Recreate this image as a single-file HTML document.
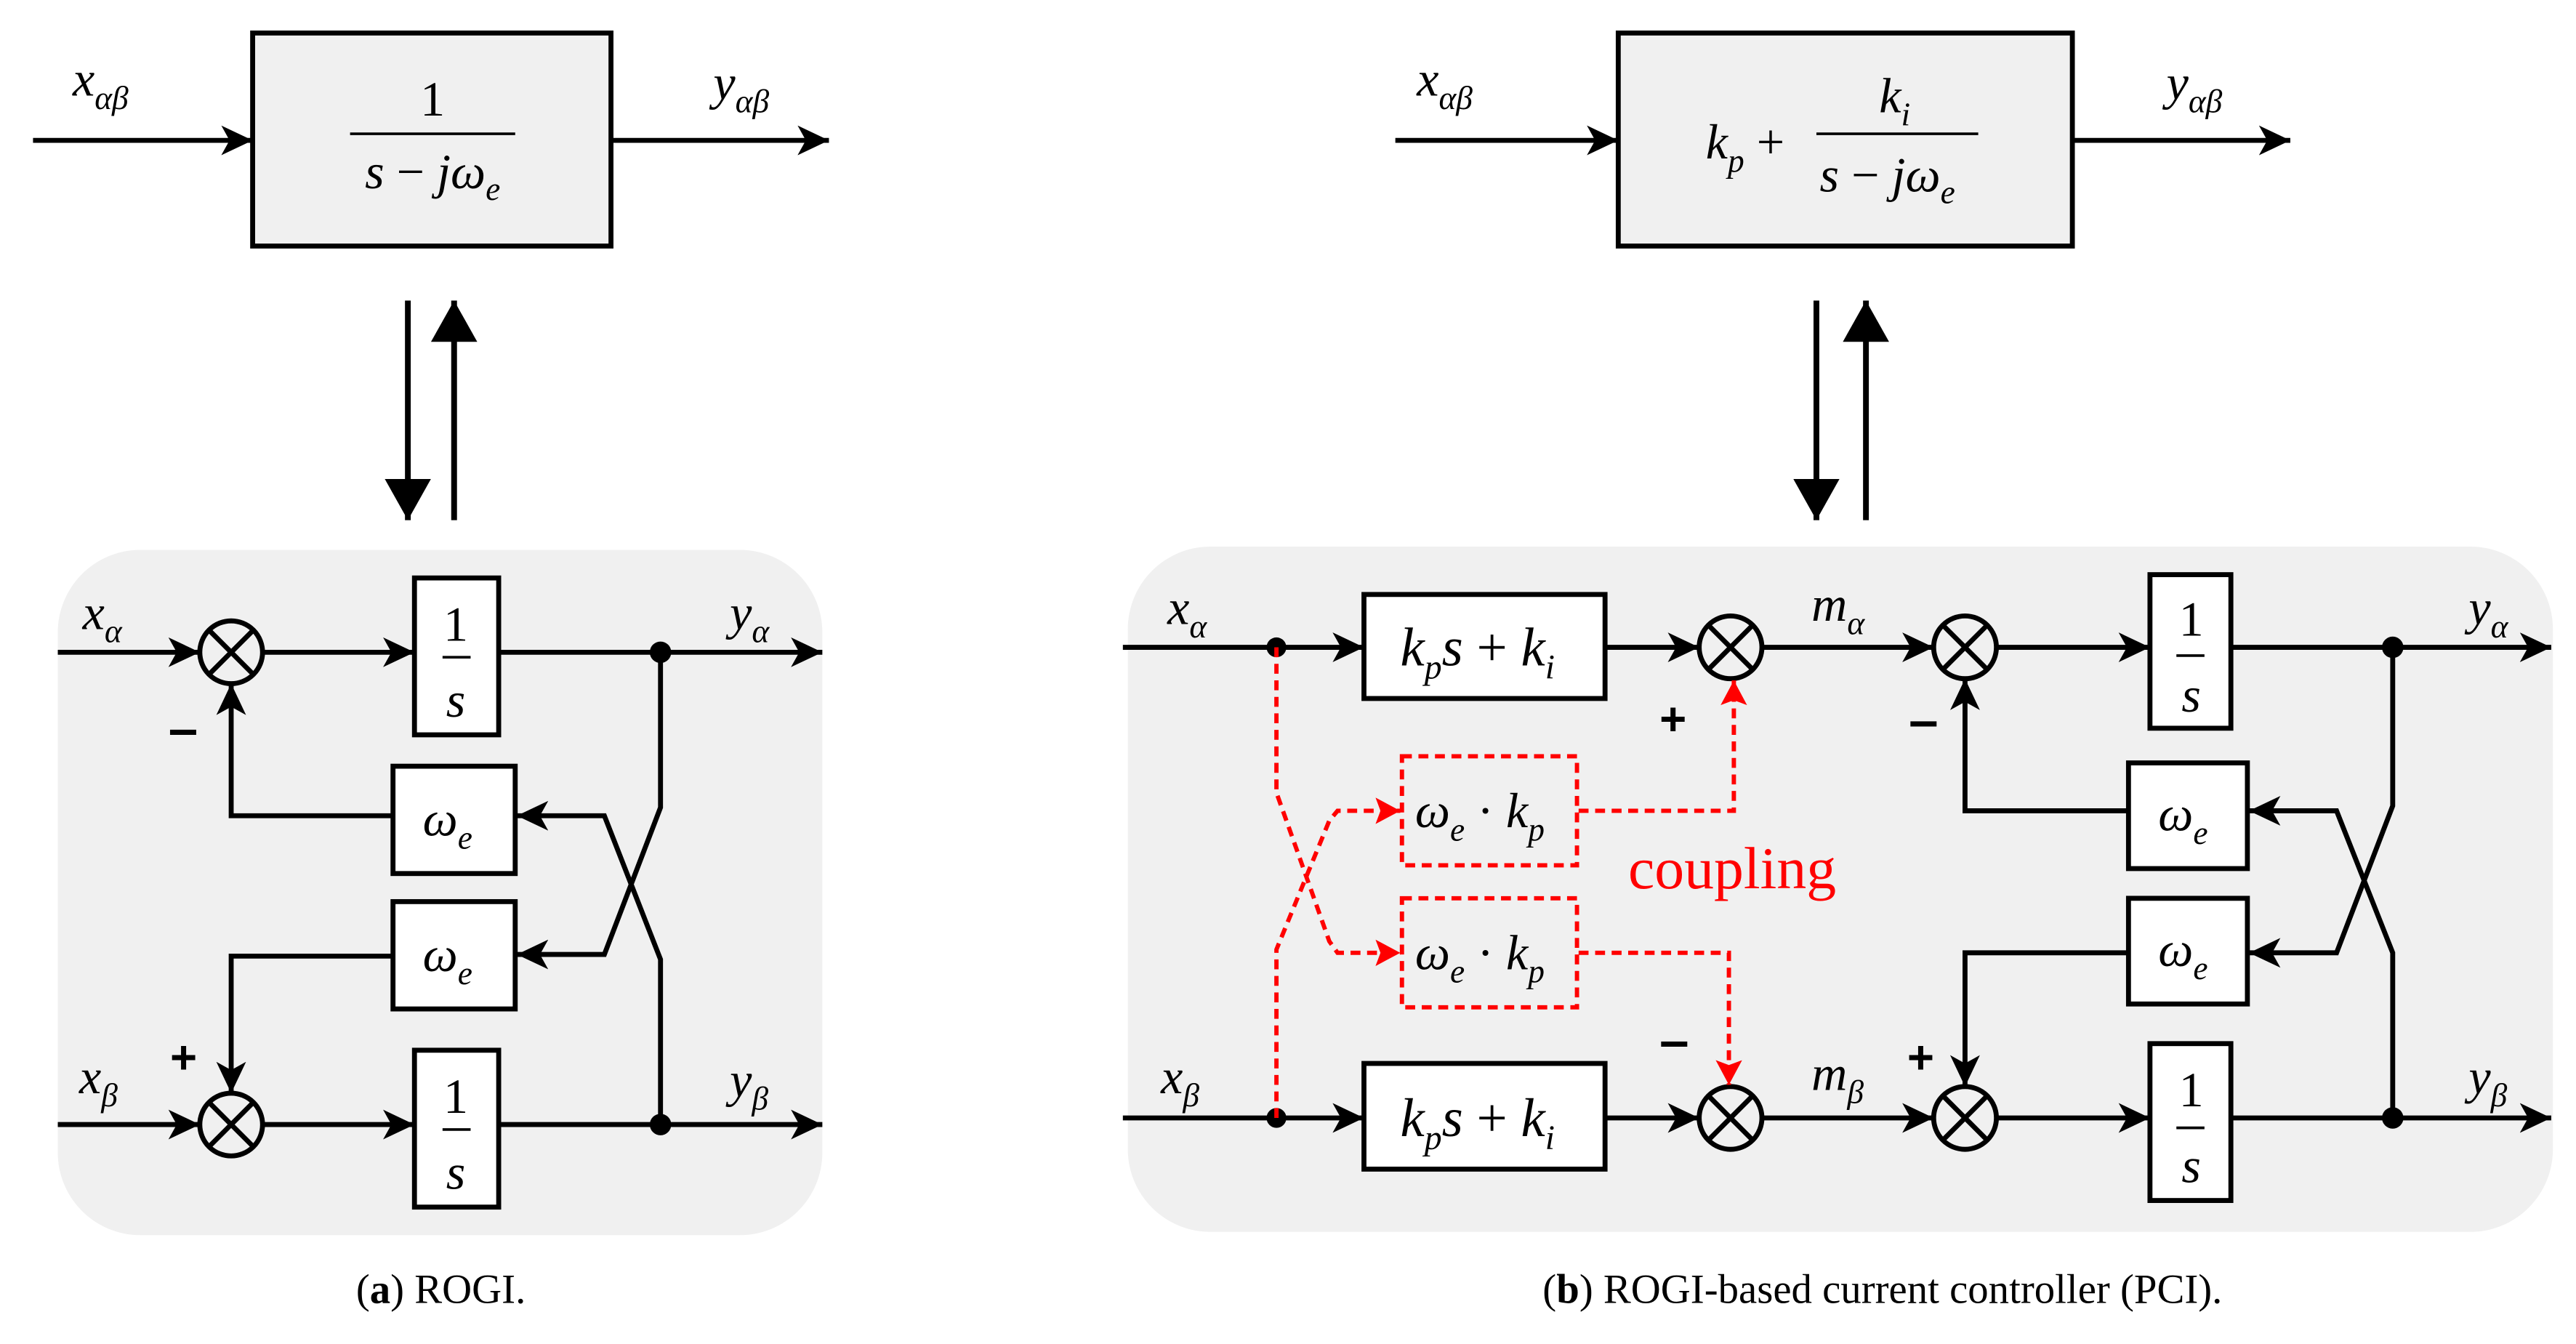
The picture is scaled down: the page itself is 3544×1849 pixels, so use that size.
<!DOCTYPE html>
<html><head><meta charset="utf-8"><style>
html,body{margin:0;padding:0;background:#fff;}
svg{display:block;}
.m{font-style:italic;}
.s{font-family:"Liberation Sans",sans-serif;font-weight:bold;}
</style></head><body>
<svg width="3544" height="1849" viewBox="0 0 1560 813.9" preserveAspectRatio="none" xmlns="http://www.w3.org/2000/svg">
<defs>
<marker id="a" markerUnits="userSpaceOnUse" markerWidth="20" markerHeight="18" refX="19" refY="9" orient="auto"><path d="M0,0 L19,9 L0,18 L5,9 Z" fill="#000"/></marker>
<marker id="r" markerUnits="userSpaceOnUse" markerWidth="16" markerHeight="16" refX="15" refY="8" orient="auto"><path d="M0,0 L15,8 L0,16 L3,8 Z" fill="#f00"/></marker>
<marker id="b" markerUnits="userSpaceOnUse" markerWidth="26" markerHeight="28" refX="25" refY="14" orient="auto"><path d="M0,0 L25,14 L0,28 Z" fill="#000"/></marker>
</defs>
<g stroke="#000" stroke-width="3" fill="none">
<rect x="153" y="20" width="217" height="129" fill="#f0f0f0"/>
<line x1="20" y1="85" x2="153" y2="85" marker-end="url(#a)"/>
<line x1="370" y1="85" x2="502" y2="85" marker-end="url(#a)"/>
<line x1="212" y1="81" x2="312" y2="81" stroke-width="1.6"/>
<line x1="247" y1="182" x2="247" y2="315" marker-end="url(#b)" stroke-width="3.5"/>
<line x1="275" y1="315" x2="275" y2="182" marker-end="url(#b)" stroke-width="3.5"/>
<rect x="980" y="20" width="275" height="129" fill="#f0f0f0"/>
<line x1="845" y1="85" x2="980" y2="85" marker-end="url(#a)"/>
<line x1="1255" y1="85" x2="1387" y2="85" marker-end="url(#a)"/>
<line x1="1100" y1="81" x2="1198" y2="81" stroke-width="1.6"/>
<line x1="1100" y1="182" x2="1100" y2="315" marker-end="url(#b)" stroke-width="3.5"/>
<line x1="1130" y1="315" x2="1130" y2="182" marker-end="url(#b)" stroke-width="3.5"/>
</g>
<rect x="35" y="333" width="463" height="415" rx="50" fill="#f0f0f0"/>
<rect x="683" y="331" width="863" height="415" rx="50" fill="#f0f0f0"/>
<g stroke="#000" stroke-width="3" fill="none">
<line x1="35" y1="395" x2="121" y2="395" marker-end="url(#a)"/>
<line x1="159" y1="395" x2="251" y2="395" marker-end="url(#a)"/>
<rect x="251" y="350" width="51" height="95" fill="#fff"/>
<line x1="268" y1="398" x2="285" y2="398" stroke-width="1.6"/>
<line x1="302" y1="395" x2="498" y2="395" marker-end="url(#a)"/>
<line x1="35" y1="681" x2="121" y2="681" marker-end="url(#a)"/>
<line x1="159" y1="681" x2="251" y2="681" marker-end="url(#a)"/>
<rect x="251" y="636" width="51" height="95" fill="#fff"/>
<line x1="268" y1="684" x2="285" y2="684" stroke-width="1.6"/>
<line x1="302" y1="681" x2="498" y2="681" marker-end="url(#a)"/>
<rect x="238" y="464" width="74" height="65" fill="#fff"/>
<rect x="238" y="546" width="74" height="65" fill="#fff"/>
<polyline points="400,395 400,489 366,578 313,578" marker-end="url(#a)"/>
<polyline points="400,681 400,581 366,494 313,494" marker-end="url(#a)"/>
<polyline points="238,494 140,494 140,414" marker-end="url(#a)"/>
<polyline points="238,579 140,579 140,662" marker-end="url(#a)"/>
<circle cx="140" cy="395" r="19"/><line x1="126.5" y1="381.5" x2="153.5" y2="408.5"/><line x1="153.5" y1="381.5" x2="126.5" y2="408.5"/>
<circle cx="140" cy="681" r="19"/><line x1="126.5" y1="667.5" x2="153.5" y2="694.5"/><line x1="153.5" y1="667.5" x2="126.5" y2="694.5"/>
<line x1="680" y1="392" x2="826" y2="392" marker-end="url(#a)"/>
<rect x="826" y="360" width="146" height="63" fill="#fff"/>
<line x1="972" y1="392" x2="1029" y2="392" marker-end="url(#a)"/>
<line x1="1067" y1="392" x2="1171" y2="392" marker-end="url(#a)"/>
<line x1="1209" y1="392" x2="1302" y2="392" marker-end="url(#a)"/>
<rect x="1302" y="348" width="49" height="93" fill="#fff"/>
<line x1="1318" y1="397" x2="1335" y2="397" stroke-width="1.6"/>
<line x1="1351" y1="392" x2="1545" y2="392" marker-end="url(#a)"/>
<line x1="680" y1="677" x2="826" y2="677" marker-end="url(#a)"/>
<rect x="826" y="644" width="146" height="64" fill="#fff"/>
<line x1="972" y1="677" x2="1029" y2="677" marker-end="url(#a)"/>
<line x1="1067" y1="677" x2="1171" y2="677" marker-end="url(#a)"/>
<line x1="1209" y1="677" x2="1302" y2="677" marker-end="url(#a)"/>
<rect x="1302" y="632" width="49" height="95" fill="#fff"/>
<line x1="1318" y1="683" x2="1335" y2="683" stroke-width="1.6"/>
<line x1="1351" y1="677" x2="1545" y2="677" marker-end="url(#a)"/>
<rect x="1289" y="462" width="72" height="64" fill="#fff"/>
<rect x="1289" y="544" width="72" height="64" fill="#fff"/>
<polyline points="1449,392 1449,488 1415,577 1362,577" marker-end="url(#a)"/>
<polyline points="1449,677 1449,577 1415,491 1362,491" marker-end="url(#a)"/>
<polyline points="1289,491 1190,491 1190,411" marker-end="url(#a)"/>
<polyline points="1289,577 1190,577 1190,658" marker-end="url(#a)"/>
<circle cx="1048" cy="392" r="19"/><line x1="1034.5" y1="378.5" x2="1061.5" y2="405.5"/><line x1="1061.5" y1="378.5" x2="1034.5" y2="405.5"/>
<circle cx="1048" cy="677" r="19"/><line x1="1034.5" y1="663.5" x2="1061.5" y2="690.5"/><line x1="1061.5" y1="663.5" x2="1034.5" y2="690.5"/>
<circle cx="1190" cy="392" r="19"/><line x1="1176.5" y1="378.5" x2="1203.5" y2="405.5"/><line x1="1203.5" y1="378.5" x2="1176.5" y2="405.5"/>
<circle cx="1190" cy="677" r="19"/><line x1="1176.5" y1="663.5" x2="1203.5" y2="690.5"/><line x1="1203.5" y1="663.5" x2="1176.5" y2="690.5"/>
</g>
<g fill="#000">
<circle cx="400" cy="395" r="6.5"/><circle cx="400" cy="681" r="6.5"/>
<circle cx="1449" cy="392" r="6.5"/><circle cx="1449" cy="677" r="6.5"/>
<circle cx="773" cy="392" r="6"/><circle cx="773" cy="677" r="6"/>
</g>
<g stroke="#f00" stroke-width="2.6" fill="none" stroke-dasharray="6,4">
<rect x="849" y="458" width="106" height="66"/>
<rect x="849" y="544" width="106" height="66"/>
<polyline points="773,392 773,480 805,570 810,577 848,577" marker-end="url(#r)"/>
<polyline points="773,677 773,575 805,497 810,491 848,491" marker-end="url(#r)"/>
<polyline points="956,491 1050,491 1050,412" marker-end="url(#r)"/>
<polyline points="956,577 1047,577 1047,657" marker-end="url(#r)"/>
</g>
<g fill="#000" font-size="30" style="font-family:'Liberation Serif','DejaVu Serif',serif">
<text x="44" y="58" class="m">x<tspan font-size="20" dy="8">αβ</tspan></text>
<text x="432" y="60" class="m">y<tspan font-size="20" dy="8">αβ</tspan></text>
<text x="262" y="70" text-anchor="middle">1</text>
<text x="262" y="114" text-anchor="middle" class="m">s <tspan font-style="normal">−</tspan> jω<tspan font-size="20" dy="7">e</tspan></text>
<text x="858" y="58" class="m">x<tspan font-size="20" dy="8">αβ</tspan></text>
<text x="1312" y="60" class="m">y<tspan font-size="20" dy="8">αβ</tspan></text>
<text x="1033" y="96" class="m">k<tspan font-size="20" dy="8">p</tspan><tspan font-style="normal" dy="-8"> +</tspan></text>
<text x="1138" y="68" class="m">k<tspan font-size="20" dy="8">i</tspan></text>
<text x="1102" y="116" class="m">s <tspan font-style="normal">−</tspan> jω<tspan font-size="20" dy="7">e</tspan></text>

<text x="50" y="381" class="m">x<tspan font-size="20" dy="8">α</tspan></text>
<text x="442" y="381" class="m">y<tspan font-size="20" dy="8">α</tspan></text>
<text x="48" y="662" class="m">x<tspan font-size="20" dy="8">β</tspan></text>
<text x="442" y="664" class="m">y<tspan font-size="20" dy="8">β</tspan></text>
<text x="276" y="388" text-anchor="middle">1</text>
<text x="276" y="434" text-anchor="middle" class="m">s</text>
<text x="276" y="674" text-anchor="middle">1</text>
<text x="276" y="720" text-anchor="middle" class="m">s</text>
<text x="256" y="506" class="m">ω<tspan font-size="20" dy="8">e</tspan></text>
<text x="256" y="588" class="m">ω<tspan font-size="20" dy="8">e</tspan></text>
<text x="102" y="452" class="s" font-size="32">–</text>
<text x="103" y="650" class="s" font-size="28">+</text>

<text x="707" y="378" class="m">x<tspan font-size="20" dy="8">α</tspan></text>
<text x="703" y="662" class="m">x<tspan font-size="20" dy="8">β</tspan></text>
<text x="1097" y="376" class="m">m<tspan font-size="20" dy="8">α</tspan></text>
<text x="1097" y="660" class="m">m<tspan font-size="20" dy="8">β</tspan></text>
<text x="1495" y="378" class="m">y<tspan font-size="20" dy="8">α</tspan></text>
<text x="1495" y="662" class="m">y<tspan font-size="20" dy="8">β</tspan></text>
<text x="848" y="403" class="m" font-size="33">k<tspan font-size="21" dy="8">p</tspan><tspan dy="-8">s</tspan><tspan font-style="normal"> + </tspan>k<tspan font-size="21" dy="8">i</tspan></text>
<text x="848" y="688" class="m" font-size="33">k<tspan font-size="21" dy="8">p</tspan><tspan dy="-8">s</tspan><tspan font-style="normal"> + </tspan>k<tspan font-size="21" dy="8">i</tspan></text>
<text x="1327" y="385" text-anchor="middle">1</text>
<text x="1327" y="431" text-anchor="middle" class="m">s</text>
<text x="1327" y="670" text-anchor="middle">1</text>
<text x="1327" y="716" text-anchor="middle" class="m">s</text>
<text x="1307" y="503" class="m">ω<tspan font-size="20" dy="8">e</tspan></text>
<text x="1307" y="585" class="m">ω<tspan font-size="20" dy="8">e</tspan></text>
<text x="857" y="501" class="m">ω<tspan font-size="20" dy="8">e</tspan><tspan font-style="normal" dy="-8"> · </tspan>k<tspan font-size="20" dy="8">p</tspan></text>
<text x="857" y="587" class="m">ω<tspan font-size="20" dy="8">e</tspan><tspan font-style="normal" dy="-8"> · </tspan>k<tspan font-size="20" dy="8">p</tspan></text>
<text x="1005" y="445" class="s" font-size="28">+</text>
<text x="1005" y="641" class="s" font-size="32">–</text>
<text x="1156" y="447" class="s" font-size="32">–</text>
<text x="1155" y="650" class="s" font-size="28">+</text>
<text x="986" y="538" font-size="36" fill="#f00">coupling</text>

<text x="267" y="789" text-anchor="middle" font-size="25">(<tspan font-weight="bold">a</tspan>) ROGI.</text>
<text x="1140" y="789" text-anchor="middle" font-size="25">(<tspan font-weight="bold">b</tspan>) ROGI-based current controller (PCI).</text>
</g>
</svg>
</body></html>
